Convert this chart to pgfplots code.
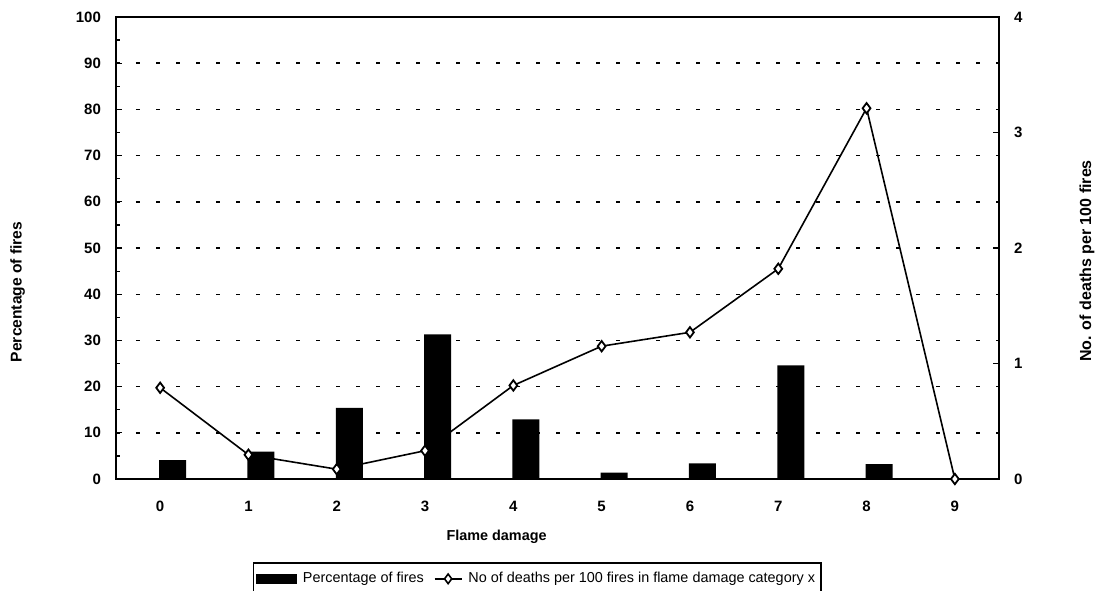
\documentclass[border=0pt]{standalone}
\usepackage{fontspec}
\setmainfont{Liberation Sans}
\usepackage{pgfplots}
\pgfplotsset{compat=1.18}
\pgfplotstableread{
x pct
0 4.1
1 5.9
2 15.4
3 31.3
4 12.9
5 1.4
6 3.4
7 24.6
8 3.2
9 0
}\bartable
\pgfplotstableread{
x deaths
0 0.79
1 0.21
2 0.085
3 0.245
4 0.81
5 1.15
6 1.27
7 1.82
8 3.21
9 0
}\linetable
\begin{document}
\begin{tikzpicture}
\pgfplotsset{
  /pgf/number format/assume math mode=true,
  every tick label/.append style={font=\bfseries\fontsize{7.5}{8}\selectfont},
  every axis/.append style={
    scale only axis, width=441.5pt, height=231pt,
    xmin=-0.5, xmax=9.5,
    axis line style={line width=1.2pt},
    tick align=inside,
    major tick length=3pt, minor tick length=2pt,
    every tick/.style={black, line width=0.6pt},
  },
}
\begin{axis}[name=ax1,
  ymin=0, ymax=100,
  ytick={0,10,...,100},
  minor y tick num=1,
  ytick pos=left,
  yticklabel style={xshift=-4pt},
  xtick={0,...,9},
  x tick style={draw=none},
  xticklabel style={yshift=-7.5pt},
  ymajorgrids,
  grid style={black, line width=0.7pt, dash pattern=on 2pt off 8pt},
  xlabel={Flame damage},
  xlabel style={font=\bfseries\fontsize{7.2}{8}\selectfont, at={(axis description cs:0.431,-0.125)}, anchor=center},
  ylabel={Percentage of fires},
  ylabel style={font=\bfseries\fontsize{7.8}{8}\selectfont, at={(axis description cs:-0.1115,0.405)}, anchor=center},
]
\addplot[ybar, bar width=13.5pt, bar shift=6.25pt, fill=black, draw=none] table[x=x, y=pct] {\bartable};
\end{axis}
\begin{axis}[
  ymin=0, ymax=4,
  ytick={0,1,2,3,4},
  axis y line*=right,
  axis x line=none,
  yticklabel style={xshift=4pt},
  ylabel={No. of deaths per 100 fires},
  ylabel style={font=\bfseries\fontsize{8}{8}\selectfont, at={(axis description cs:1.0997,0.472)}, anchor=center},
  legend style={at={(axis description cs:0.156,-0.182)}, anchor=north west,
    draw=black, line width=0.6pt, inner xsep=1pt, inner ysep=2.5pt, outer sep=0pt,
    font=\fontsize{7.2}{8}\selectfont, column sep=1pt,
    /tikz/every even column/.append style={column sep=3pt}},
  legend columns=2,
  legend cell align=left,
]
\addlegendimage{legend image code/.code={\fill[black] (0pt,-2.3pt) rectangle (20pt,2.3pt);}}
\addlegendentry{Percentage of fires}
\addplot[black, line width=0.8pt, mark=diamond*, mark size=2.6pt, mark options={fill=white, line width=0.9pt},
  legend image code/.code={\draw[black, line width=0.8pt] (0pt,0pt) -- (13.5pt,0pt); \draw[black, fill=white, line width=0.8pt] (6.75pt,0pt) +(0,2.4pt) -- +(1.8pt,0) -- +(0,-2.4pt) -- +(-1.8pt,0) -- cycle;}] table[x=x, y=deaths] {\linetable};
\addlegendentry{No of deaths per 100 fires in flame damage category x}
\end{axis}
\pgfresetboundingbox
\path ([shift={(-58pt,-55.5pt)}]ax1.south west) rectangle ([shift={(49pt,8.5pt)}]ax1.north east);
\end{tikzpicture}
\end{document}
